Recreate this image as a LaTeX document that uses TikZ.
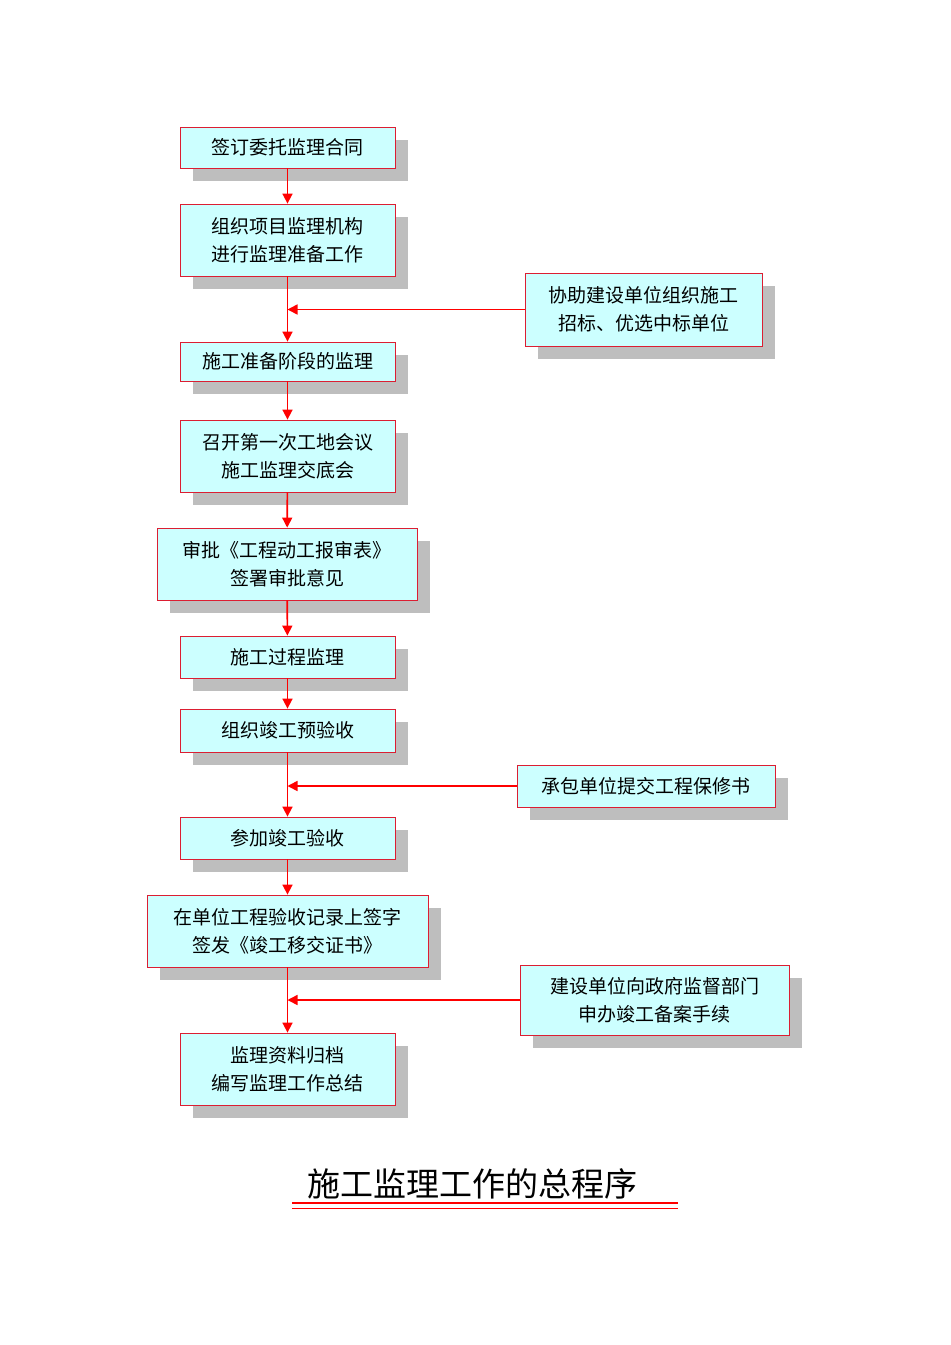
\documentclass[tikz,border=0pt]{standalone}
\usepackage{fontspec}
\newfontfamily\cjk{Noto Sans CJK SC}
\usetikzlibrary{shadows,arrows.meta}

\begin{document}
\begin{tikzpicture}[x=0.5pt,y=-0.5pt]
	\definecolor{boxcyan}{RGB}{204,255,255}
	\definecolor{boxred}{RGB}{220,30,50}
	\definecolor{shadowgray}{RGB}{190,190,190}
	\tikzset{
		flowbox/.style={draw=boxred, fill=boxcyan, align=center, inner sep=0pt,
			font=\cjk\fontsize{9.5pt}{14pt}\selectfont,
			drop shadow={shadow xshift=6.5pt, shadow yshift=-6.5pt, fill=shadowgray, opacity=1}},
		flow/.style={draw=red, thick, -{Triangle[length=5pt,width=5pt]}}
	}

	\useasboundingbox (0,0) rectangle (950,1345);

	\node[flowbox, minimum width=107.5pt, minimum height=20.5pt] (contract) at (287.5,147.5) {签订委托监理合同};
	\node[flowbox, minimum width=107.5pt, minimum height=36pt] (organize) at (287.5,240) {组织项目监理机构\\进行监理准备工作};
	\node[flowbox, minimum width=107.5pt, minimum height=19.5pt] (prepare) at (287.5,361.5) {施工准备阶段的监理};
	\node[flowbox, minimum width=107.5pt, minimum height=36pt] (meeting) at (287.5,456) {召开第一次工地会议\\施工监理交底会};
	\node[flowbox, minimum width=130pt, minimum height=36pt] (approve) at (287,564) {审批《工程动工报审表》\\签署审批意见};
	\node[flowbox, minimum width=107.5pt, minimum height=21pt] (process) at (287.5,657) {施工过程监理};
	\node[flowbox, minimum width=107.5pt, minimum height=21.5pt] (preaccept) at (287.5,730.5) {组织竣工预验收};
	\node[flowbox, minimum width=107.5pt, minimum height=21pt] (accept) at (287.5,838) {参加竣工验收};
	\node[flowbox, minimum width=140.5pt, minimum height=36pt] (sign) at (287.5,931) {在单位工程验收记录上签字\\签发《竣工移交证书》};
	\node[flowbox, minimum width=107.5pt, minimum height=36pt] (archive) at (287.5,1069) {监理资料归档\\编写监理工作总结};

	\node[flowbox, minimum width=118.5pt, minimum height=36.5pt] (tender) at (643.5,309.5) {协助建设单位组织施工\\招标、优选中标单位};
	\node[flowbox, minimum width=129pt, minimum height=21pt] (warranty) at (646,786) {承包单位提交工程保修书};
	\node[flowbox, minimum width=134.5pt, minimum height=35pt] (filing) at (654.5,1000) {建设单位向政府监督部门\\申办竣工备案手续};

	\draw[flow] (contract) -- (organize);
	\draw[flow] (organize) -- (prepare);
	\draw[flow] (prepare) -- (meeting);
	\draw[flow] (meeting) -- (approve);
	\draw[flow] (approve) -- (process);
	\draw[flow] (process) -- (preaccept);
	\draw[flow] (preaccept) -- (accept);
	\draw[flow] (accept) -- (sign);
	\draw[flow] (sign) -- (archive);

	\draw[flow] (tender.west) -- (tender.west -| organize.south);
	\draw[flow] (warranty.west) -- (warranty.west -| preaccept.south);
	\draw[flow] (filing.west) -- (filing.west -| sign.south);

	\node[font=\cjk\fontsize{16.5pt}{20pt}\selectfont, inner sep=0pt] (title) at (472,1184) {施工监理工作的总程序};
	\draw[red, thick] (292,1203) -- (678,1203);
	\draw[red, thin] (292,1208) -- (678,1208);
\end{tikzpicture}
\end{document}
